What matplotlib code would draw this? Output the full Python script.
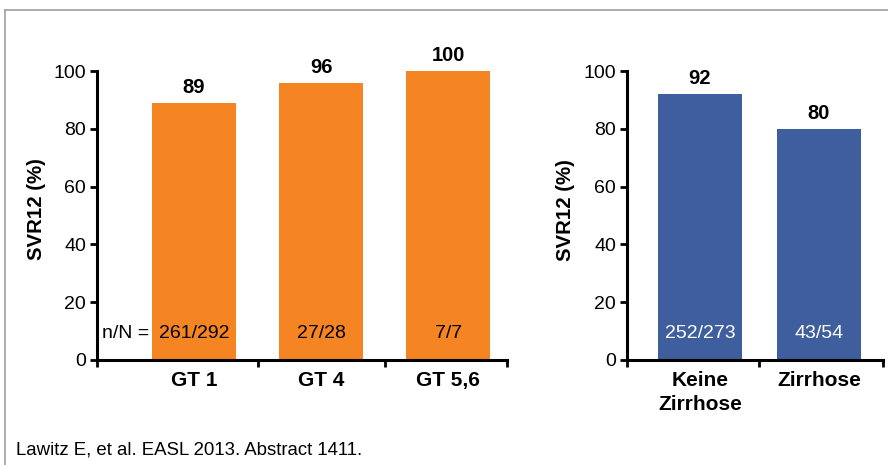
import matplotlib
matplotlib.use("Agg")
import matplotlib.pyplot as plt
from matplotlib.lines import Line2D

plt.rcParams['font.family'] = ['Liberation Sans', 'DejaVu Sans']

# Data
gt_categories = ["GT 1", "GT 4", "GT 5,6"]
gt_values = [89, 96, 100]
gt_counts = ["261/292", "27/28", "7/7"]

cir_categories = ["Keine\nZirrhose", "Zirrhose"]
cir_values = [92, 80]
cir_counts = ["252/273", "43/54"]

yticks = [0, 20, 40, 60, 80, 100]
ylabel = "SVR12 (%)"
footer = "Lawitz E, et al. EASL 2013. Abstract 1411."

ORANGE = "#F58423"
BLUE = "#3F5E9D"

W, H = 888, 465
fig = plt.figure(figsize=(W / 100, H / 100), dpi=100)

def px(x0, y0, x1, y1):
    return [x0 / W, 1 - y1 / H, (x1 - x0) / W, (y1 - y0) / H]

def style_axes(ax, cats, xlim, seps):
    ax.set_ylim(0, 100)
    ax.set_xlim(*xlim)
    for s in ["top", "right"]:
        ax.spines[s].set_visible(False)
    for s in ["left", "bottom"]:
        ax.spines[s].set_linewidth(2.2)
    ax.set_yticks(yticks)
    ax.set_yticklabels([str(t) for t in yticks], fontsize=14)
    ax.tick_params(axis="y", which="major", length=5, width=2, pad=3)
    ax.set_xticks(seps)
    ax.set_xticklabels([])
    ax.tick_params(axis="x", which="major", length=5, width=2, direction="out")
    ax.set_xticks(range(len(cats)), minor=True)
    ax.set_xticklabels(cats, minor=True, fontsize=15, fontweight="bold",
                       linespacing=1.35)
    ax.tick_params(axis="x", which="minor", length=0, pad=8)

# Left panel
ax1 = fig.add_axes(px(97, 71, 507, 360))
bw1 = 0.661
xl1 = (-0.764, 2.464)
ax1.bar(range(len(gt_values)), gt_values, width=bw1, color=ORANGE, clip_on=False)
style_axes(ax1, gt_categories, xl1, [xl1[0], 0.5, 1.5, xl1[1]])
for i, (v, c) in enumerate(zip(gt_values, gt_counts)):
    ax1.annotate(str(v), (i, v), xytext=(0, 7), textcoords="offset points",
                 ha="center", va="baseline", fontsize=14.5, fontweight="bold")
    ax1.text(i, 9.3, c, ha="center", va="center", fontsize=14, color="black")
ax1.annotate("n/N =", (0 - bw1 / 2, 9.3), xytext=(-2, 0), textcoords="offset points",
             ha="right", va="center", fontsize=14)

# Right panel
ax2 = fig.add_axes(px(627, 71, 883, 360))
bw2 = 0.706
xl2 = (-0.613, 1.538)
ax2.bar(range(len(cir_values)), cir_values, width=bw2, color=BLUE, clip_on=False)
style_axes(ax2, cir_categories, xl2, [xl2[0], 0.5, xl2[1]])
for i, (v, c) in enumerate(zip(cir_values, cir_counts)):
    ax2.annotate(str(v), (i, v), xytext=(0, 7), textcoords="offset points",
                 ha="center", va="baseline", fontsize=14.5, fontweight="bold")
    ax2.text(i, 9.3, c, ha="center", va="center", fontsize=14, color="white")

# Y labels
fig.text(37 / W, 1 - 209 / H, ylabel, rotation=90, ha="center", va="center",
         fontsize=14.7, fontweight="bold")
fig.text(565 / W, 1 - 210 / H, ylabel, rotation=90, ha="center", va="center",
         fontsize=14.7, fontweight="bold")

# Footer
fig.text(16 / W, 1 - 454 / H, footer, ha="left", va="baseline", fontsize=13.4)

# Frame (top and left gray lines)
fig.add_artist(Line2D([5 / W, 1.0], [1 - 10 / H, 1 - 10 / H], color="#A6A6A6", lw=1.3))
fig.add_artist(Line2D([5 / W, 5 / W], [0, 1 - 10 / H], color="#A6A6A6", lw=1.3))

fig.savefig("out.png", dpi=100)
